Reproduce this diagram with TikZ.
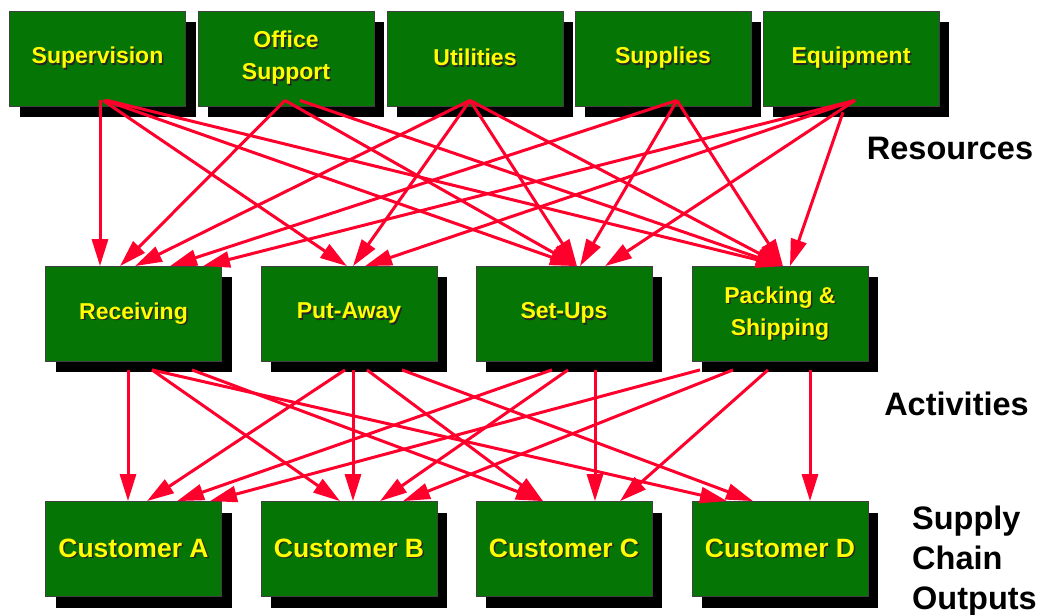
\documentclass[tikz,border=0pt]{standalone}
\usepackage{fontspec}
\setmainfont{Liberation Sans}
\usetikzlibrary{arrows.meta,shadows}

\definecolor{boxgreen}{RGB}{5,117,5}
\definecolor{flowred}{RGB}{255,0,45}
\definecolor{labelyellow}{RGB}{255,255,0}

% yellow label with a dark drop shadow
\newcommand{\shadetext}[1]{\rlap{\kern1.5pt\raisebox{-1.5pt}{\color{black!85}#1}}{\color{labelyellow}#1}}

\begin{document}
\begin{tikzpicture}[x=1pt,y=1pt,
  block/.style={draw=black!75, line width=0.8pt, fill=boxgreen,
    minimum width=176pt, minimum height=95pt, inner sep=0pt, align=center,
    font=\bfseries\fontsize{23}{32}\selectfont,
    drop shadow={shadow xshift=10pt, shadow yshift=-11pt, opacity=1, fill=black}},
  outblock/.style={block, font=\bfseries\fontsize{26.5}{32}\selectfont},
  flow/.style={draw=flowred, line width=3pt, -{Triangle[length=27pt,width=16pt]}},
  side/.style={font=\bfseries\fontsize{32.5}{40}\selectfont, align=left, inner sep=0pt}]
  \useasboundingbox (0,0) rectangle (1042,614);

  % resources
  \node[block] (super) at (97.5,555.5) {\shadetext{Supervision}};
  \node[block] (office) at (286,555.5) {\shadetext{Office}\\\shadetext{Support}};
  \node[block] (util) at (475,555.5) {\shadetext{Utilities}};
  \node[block] (suppl) at (663,555.5) {\shadetext{Supplies}};
  \node[block] (equip) at (851,555.5) {\shadetext{Equipment}};

  % activities
  \node[block] (recv) at (133.5,300) {\shadetext{Receiving}};
  \node[block] (put) at (349,300) {\shadetext{Put-Away}};
  \node[block] (setup) at (564,300) {\shadetext{Set-Ups}};
  \node[block] (pack) at (780,300) {\shadetext{Packing \&}\\\shadetext{Shipping}};

  % supply chain outputs
  \node[outblock] (custA) at (133.5,65) {\shadetext{Customer A}};
  \node[outblock] (custB) at (349,65) {\shadetext{Customer B}};
  \node[outblock] (custC) at (564,65) {\shadetext{Customer C}};
  \node[outblock] (custD) at (780,65) {\shadetext{Customer D}};

  % level labels
  \node[side] (res) at (950,466) {Resources};
  \node[side] (act) at (956.5,210) {Activities};
  \node[side, anchor=west] (outs) at (912,53) {Supply\\Chain\\Outputs};

  % resources to activities
  \draw[flow] ([xshift=2.5pt,yshift=6pt]super.south) -- ([xshift=-33.5pt]recv.north);
  \draw[flow] ([xshift=5.5pt,yshift=6pt]super.south) -- ([xshift=-2pt]put.north);
  \draw[flow] ([xshift=7.5pt,yshift=6pt]super.south) -- ([xshift=13pt]setup.north);
  \draw[flow] ([xshift=9.5pt,yshift=6pt]super.south) -- ([xshift=3pt]pack.north);
  \draw[flow] ([xshift=-1pt,yshift=6pt]office.south) -- ([xshift=-13.5pt]recv.north);
  \draw[flow] ([xshift=-1pt,yshift=6pt]office.south) -- ([xshift=13pt]setup.north);
  \draw[flow] ([xshift=14pt,yshift=6pt]office.south) -- ([xshift=3pt]pack.north);
  \draw[flow] ([xshift=-5pt,yshift=6pt]util.south) -- ([xshift=1.5pt]recv.north);
  \draw[flow] ([xshift=-5pt,yshift=6pt]util.south) -- ([xshift=4pt]put.north);
  \draw[flow] ([xshift=-5pt,yshift=6pt]util.south) -- ([xshift=13pt]setup.north);
  \draw[flow] ([xshift=-5pt,yshift=6pt]util.south) -- ([xshift=3pt]pack.north);
  \draw[flow] ([xshift=14pt,yshift=6pt]suppl.south) -- ([xshift=36.5pt]recv.north);
  \draw[flow] ([xshift=14pt,yshift=6pt]suppl.south) -- ([xshift=16pt]setup.north);
  \draw[flow] ([xshift=14pt,yshift=6pt]suppl.south) -- ([xshift=3pt]pack.north);
  \draw[flow] ([xshift=4pt,yshift=6pt]equip.south) -- ([xshift=69.5pt]recv.north);
  \draw[flow] ([xshift=4pt,yshift=6pt]equip.south) -- ([xshift=16pt]put.north);
  \draw[flow] ([xshift=4pt,yshift=6pt]equip.south) -- ([xshift=41pt]setup.north);
  \draw[flow] ([xshift=-8pt,yshift=-6pt]equip.south) -- ([xshift=10pt]pack.north);

  % activities to outputs
  \draw[flow] ([xshift=-5.5pt,yshift=-8pt]recv.south) -- ([xshift=-5.5pt]custA.north);
  \draw[flow] ([xshift=18.5pt,yshift=-8pt]recv.south) -- ([xshift=-9pt]custB.north);
  \draw[flow] ([xshift=18.5pt,yshift=-8pt]recv.south) -- ([xshift=-53pt]custD.north);
  \draw[flow] ([xshift=58.5pt,yshift=-8pt]recv.south) -- ([xshift=-21pt]custC.north);
  \draw[flow] ([xshift=-4pt,yshift=-8pt]put.south) -- ([xshift=13.5pt]custA.north);
  \draw[flow] ([xshift=4pt,yshift=-8pt]put.south) -- ([xshift=4pt]custB.north);
  \draw[flow] ([xshift=18pt,yshift=-8pt]put.south) -- ([xshift=-21pt]custC.north);
  \draw[flow] ([xshift=53pt,yshift=-8pt]put.south) -- ([xshift=-27pt]custD.north);
  \draw[flow] ([xshift=-12pt,yshift=-8pt]setup.south) -- ([xshift=43.5pt]custA.north);
  \draw[flow] ([xshift=4pt,yshift=-8pt]setup.south) -- ([xshift=31pt]custB.north);
  \draw[flow] ([xshift=31pt,yshift=-8pt]setup.south) -- ([xshift=31pt]custC.north);
  \draw[flow] ([xshift=-80pt,yshift=-8pt]pack.south) -- ([xshift=76.5pt]custA.north);
  \draw[flow] ([xshift=-47pt,yshift=-8pt]pack.south) -- ([xshift=54pt]custB.north);
  \draw[flow] ([xshift=-12pt,yshift=-8pt]pack.south) -- ([xshift=56pt]custC.north);
  \draw[flow] ([xshift=30pt,yshift=-8pt]pack.south) -- ([xshift=30pt]custD.north);
\end{tikzpicture}
\end{document}
